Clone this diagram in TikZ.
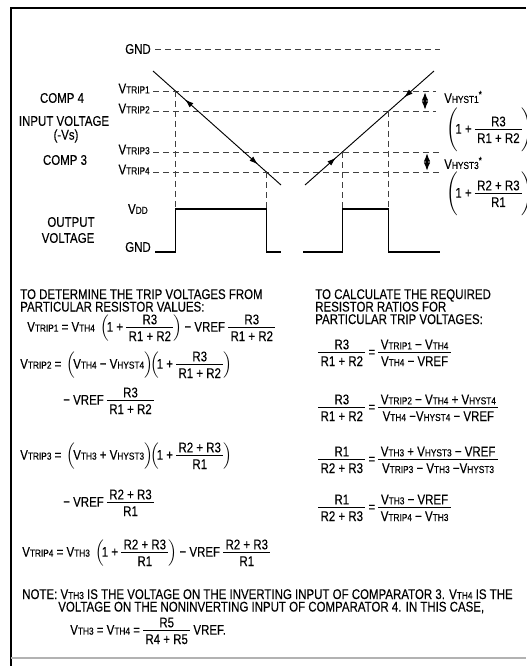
\documentclass[tikz,border=0pt]{standalone}
\usepackage{amsmath}
\usepackage{fontspec}
\setmainfont{Liberation Sans}[FakeStretch=0.82,FakeBold=0.25]
\usetikzlibrary{arrows.meta,decorations.markings,calc}
\newcommand\sm[1]{{\fontsize{7.6}{8}\selectfont #1}}
\newcommand\vv[1]{V\sm{#1}}
\newcommand\fr[2]{\mathord{\vcenter{\offinterlineskip\halign{\hfil##\hfil\cr
  \rule[-2pt]{0pt}{9.8pt}\,#1\,\cr\noalign{\hrule height 0.5pt}
  \rule[-0.8pt]{0pt}{10.8pt}\,#2\,\cr}}}}
\newcommand\pl{\left(\!}
\newcommand\pr{\right)}
\newcommand\ph{\vphantom{\fr{R}{R}}}
\begin{document}
\begin{tikzpicture}[x=0.75pt,y=-0.75pt,
  every node/.style={inner sep=0pt, font=\fontsize{10.5}{10}\selectfont},
  dsh/.style={draw=black!75, line width=0.6pt, dash pattern=on 4.5pt off 3pt},
  ramp/.style={draw, line width=0.7pt},
  wave/.style={draw, line width=0.8pt},
  harr/.style={{Latex[length=6.5pt,width=5pt]}-{Latex[length=6.5pt,width=5pt]}, line width=1.2pt},
  frm/.style={line width=1.4pt},
  mk/.style={postaction={decorate}},
  tip/.tip={Latex[length=6.5pt,width=4.2pt]}]
\useasboundingbox (0,0) rectangle (526,666);
% frame
\draw[frm] (11,666) -- (11,8) -- (526,8);
\draw[black!30, line width=0.8pt] (11,658) -- (526,658);

% GND top
\coordinate (g0) at (155,49); \coordinate (g1) at (440,49);
\draw[dsh] (g0) -- (g1);
\node[anchor=east] (gndtop) at (151,49) {GND};

% trip levels
\foreach \n/\y/\e in {1/91/436, 2/111/436, 3/152/440, 4/172/440}{
  \coordinate (t\n a) at (153,\y); \coordinate (t\n b) at (\e,\y);
  \draw[dsh] (t\n a) -- (t\n b);
  \node[anchor=east] (lt\n) at (150,\y-2.5) {\vv{TRIP\n}};
}

% ramps
\coordinate (d1) at (153,71); \coordinate (d2) at (281,185);
\coordinate (u1) at (305,185); \coordinate (u2) at (434,71);
\draw[ramp, mk, decoration={markings,
   mark=at position 0.25 with {\arrowreversed{tip}},
   mark=at position 0.82 with {\arrow{tip}}}] (d1) -- (d2);
\draw[ramp, mk, decoration={markings,
   mark=at position 0.24 with {\arrow{tip}},
   mark=at position 0.77 with {\arrowreversed{tip}}}] (u1) -- (u2);

\coordinate (x1) at (intersection of d1--d2 and t1a--t1b);
\coordinate (x4) at (intersection of d1--d2 and t4a--t4b);
\coordinate (x3) at (intersection of u1--u2 and t3a--t3b);
\coordinate (x2) at (intersection of u1--u2 and t2a--t2b);

% output levels
\coordinate (vdd) at (0,209);
\coordinate (gl) at (0,252);
\foreach \p in {x1,x2,x3,x4}{ \draw[dsh] (\p) -- (\p |- vdd); }
\coordinate (o1) at (155,252); \coordinate (o2) at (281,252);
\coordinate (o3) at (303,252); \coordinate (o4) at (440,252);
\draw[wave] (o1) -- (x1 |- gl) -- (x1 |- vdd) -- (x4 |- vdd) -- (x4 |- gl) -- (o2);
\draw[wave] (o3) -- (x3 |- gl) -- (x3 |- vdd) -- (x2 |- vdd) -- (x2 |- gl) -- (o4);

% hysteresis arrows
\coordinate (h1a) at (425,92); \coordinate (h1b) at (425,110);
\coordinate (h3a) at (427,153); \coordinate (h3b) at (427,171);
\draw[harr] (h1a) -- (h1b);
\draw[harr] (h3a) -- (h3b);

% left labels
\node (comp4) at (62,98) {COMP 4};
\node (inv) at (64,121) {INPUT VOLTAGE};
\node (vs) at (66,136) {(-Vs)};
\node (comp3) at (65,160) {COMP 3};
\node[anchor=east] (vddl) at (148,209) {\vv{DD}};
\node[anchor=east] (gndl) at (151,247) {GND};
\node (out1) at (71,222) {OUTPUT};
\node (out2) at (68,238) {VOLTAGE};

% right labels
\node[anchor=west] (hy1) at (444,97) {\vv{HYST1}\textsuperscript{*}};
\node[anchor=west] (hb1) at (446,130) {$\Bigg(\!\text{1 + }\fr{R3}{R1 + R2}\Bigg)$};
\node[anchor=west] (hy3) at (444,163) {\vv{HYST3}\textsuperscript{*}};
\node[anchor=west] (hb3) at (446,194) {$\Bigg(\!\text{1 + }\fr{R2 + R3}{R1}\Bigg)$};

% left column
\node[anchor=base west] (hl1) at (20,299) {TO DETERMINE THE TRIP VOLTAGES FROM};
\node[anchor=base west] (hl2) at (20,311.5) {PARTICULAR RESISTOR VALUES:};
\node[anchor=west] (e1) at (27,328) {$\text{\vv{TRIP1} = \vv{TH4} }\pl\text{1 + }\fr{R3}{R1 + R2}\pr\text{− VREF }\fr{R3}{R1 + R2}$};
\node[anchor=west] (e2) at (20,365) {$\text{\vv{TRIP2} = }\pl\ph\text{\vv{TH4} − \vv{HYST4}}\pr\!\!\pl\text{1 + }\fr{R3}{R1 + R2}\pr$};
\node[anchor=west] (e2b) at (63,401) {$\text{− VREF }\fr{R3}{R1 + R2}$};
\node[anchor=west] (e3) at (20,456) {$\text{\vv{TRIP3} = }\pl\ph\text{\vv{TH3} + \vv{HYST3}}\pr\!\!\pl\text{1 + }\fr{R2 + R3}{R1}\pr$};
\node[anchor=west] (e3b) at (63,503) {$\text{− VREF }\fr{R2 + R3}{R1}$};
\node[anchor=west] (e4) at (22,553) {$\text{\vv{TRIP4} = \vv{TH3} }\pl\text{1 + }\fr{R2 + R3}{R1}\pr\text{− VREF }\fr{R2 + R3}{R1}$};

% right column
\node[anchor=base west] (hr1) at (315,299) {TO CALCULATE THE REQUIRED};
\node[anchor=base west] (hr2) at (315,311.5) {RESISTOR RATIOS FOR};
\node[anchor=base west] (hr3) at (315,324) {PARTICULAR TRIP VOLTAGES:};
\node[anchor=west] (r1) at (318,353) {$\fr{R3}{R1 + R2}\text{ = }\fr{\vv{TRIP1} − \vv{TH4}}{\vv{TH4} − VREF}$};
\node[anchor=west] (r2) at (318,408) {$\fr{R3}{R1 + R2}\text{ = }\fr{\vv{TRIP2} − \vv{TH4} + \vv{HYST4}}{\vv{TH4} −\vv{HYST4} − VREF}$};
\node[anchor=west] (r3) at (318,460) {$\fr{R1}{R2 + R3}\text{ = }\fr{\vv{TH3} + \vv{HYST3} − VREF}{\vv{TRIP3} − \vv{TH3} −\vv{HYST3}}$};
\node[anchor=west] (r4) at (318,508) {$\fr{R1}{R2 + R3}\text{ = }\fr{\vv{TH3} − VREF}{\vv{TRIP4} − \vv{TH3}}$};

% note
\node[anchor=base west] (n1) at (22,599) {NOTE: \vv{TH3} IS THE VOLTAGE ON THE INVERTING INPUT OF COMPARATOR 3. \vv{TH4} IS THE};
\node[anchor=base west] (n2) at (58,611.5) {VOLTAGE ON THE NONINVERTING INPUT OF COMPARATOR 4. IN THIS CASE,};
\node[anchor=west] (n3) at (70,631) {$\text{\vv{TH3} = \vv{TH4} = }\fr{R5}{R4 + R5}\text{ VREF.}$};
\end{tikzpicture}
\end{document}
